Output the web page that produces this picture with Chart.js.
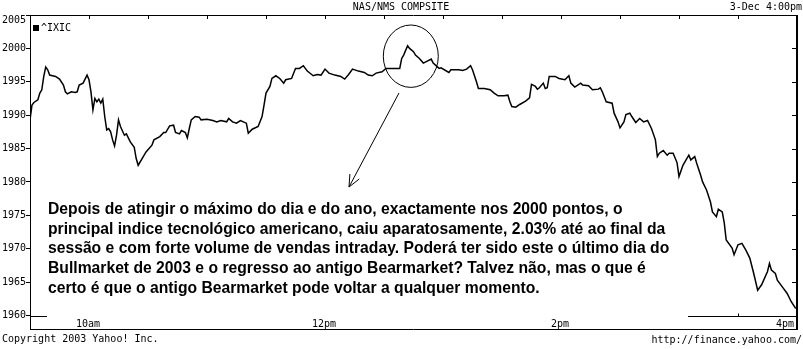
<!DOCTYPE html>
<html>
<head>
<meta charset="utf-8">
<title>NAS/NMS COMPSITE</title>
<script src="https://cdn.jsdelivr.net/npm/chart.js@4.4.1/dist/chart.umd.min.js"></script>
<style>
html, body { margin: 0; padding: 0; background: #fff; }
#wrap { position: relative; width: 803px; height: 349px; }
</style>
</head>
<body>
<div id="wrap"><canvas id="chart"></canvas></div>
<script>
// ^IXIC intraday, minutes after 9:30 open
const minutes = [0,1,2,4,5,6,7,8,9,10,13,15,17,18,19,21,23,24,25,27,29,30,31,32,33,34,35,36,37,38,39,40,41,42,43,44,45,46,48,49,51,53,54,55,57,59,62,63,66,68,69,71,73,74,76,77,79,80,81,82,84,86,87,90,93,95,97,100,101,103,105,107,110,111,113,116,118,119,120,122,123,125,127,129,130,133,135,137,139,141,144,146,148,150,152,155,158,160,162,164,167,170,172,174,176,179,181,185,188,189,190,192,193,195,196,198,200,202,204,205,208,209,213,214,218,220,222,224,225,227,228,231,234,236,238,241,243,244,245,247,249,252,254,255,257,258,259,261,262,263,264,267,269,272,274,275,277,280,281,284,286,289,290,291,293,296,297,299,300,302,303,305,306,308,310,312,314,316,318,319,320,322,324,325,327,329,330,332,333,335,336,338,339,341,342,344,346,347,349,350,352,353,354,357,358,360,362,364,366,368,370,372,375,376,377,379,380,383,385,387,389,390];
const values = [1989.3,1991.5,1991.9,1992.3,1993.3,1993.8,1995.8,1997.2,1996.8,1996.0,1995.8,1995.4,1994.5,1993.5,1993.2,1993.5,1993.4,1993.5,1994.5,1994.8,1996.0,1995.3,1993.5,1990.8,1992.5,1992.0,1992.4,1991.8,1992.4,1989.8,1987.8,1988.0,1987.5,1986.3,1985.4,1987.0,1989.3,1988.3,1987.0,1987.2,1986.0,1985.2,1983.5,1982.5,1983.5,1984.5,1985.5,1986.3,1986.8,1987.4,1987.4,1988.4,1988.5,1987.4,1987.2,1987.7,1987.4,1986.6,1988.0,1989.3,1989.8,1989.7,1989.3,1989.4,1989.2,1989.0,1989.2,1989.0,1989.5,1989.0,1988.8,1989.2,1988.8,1987.3,1987.9,1988.3,1989.8,1991.5,1993.3,1994.3,1995.5,1995.9,1995.5,1994.8,1995.3,1995.5,1997.0,1997.0,1997.4,1996.6,1995.9,1996.1,1996.0,1996.9,1996.3,1996.0,1995.8,1995.4,1996.1,1996.9,1996.6,1996.4,1996.0,1995.9,1996.3,1996.5,1997.0,1997.0,1997.0,1998.5,1999.0,2000.4,2000.0,1999.5,1999.0,1998.5,1997.8,1998.1,1998.4,1997.8,1997.0,1997.1,1996.4,1996.8,1996.8,1996.7,1996.9,1997.4,1996.8,1995.0,1994.0,1994.0,1993.8,1993.3,1992.9,1992.9,1993.0,1992.0,1991.3,1991.2,1991.6,1992.1,1992.6,1994.6,1994.3,1993.9,1994.1,1994.8,1994.0,1994.1,1995.8,1995.8,1995.5,1995.3,1995.9,1994.8,1994.2,1994.8,1994.5,1994.4,1993.8,1993.9,1994.1,1993.5,1992.0,1991.8,1990.3,1989.0,1988.1,1989.0,1990.1,1990.3,1989.8,1988.9,1989.5,1989.0,1989.2,1988.0,1986.3,1983.8,1984.3,1984.7,1984.0,1984.3,1984.3,1982.9,1980.8,1982.5,1983.0,1984.0,1983.3,1983.8,1982.8,1981.0,1980.0,1978.8,1977.0,1975.5,1974.8,1975.9,1975.5,1973.9,1971.3,1970.1,1969.1,1970.6,1970.8,1969.8,1968.6,1966.3,1963.8,1964.6,1966.6,1967.8,1966.8,1966.3,1965.3,1964.1,1963.3,1962.1,1961.2,1961.0];

const yTicks = [1960, 1965, 1970, 1975, 1980, 1985, 1990, 1995, 2000, 2005];
const gridMinutes = [30, 60, 90, 120, 150, 180, 210, 240, 270, 300, 330, 360];
const timeLabels = ['10am', '12pm', '2pm', '4pm'];
const timeLabelMinutes = [30, 150, 270, 390];

const noteLines = [
    'Depois de atingir o máximo do dia e do ano, exactamente nos 2000 pontos, o',
    'principal indice tecnológico americano, caiu aparatosamente, 2.03% até ao final da',
    'sessão e com forte volume de vendas intraday. Poderá ter sido este o último dia do',
    'Bullmarket de 2003 e o regresso ao antigo Bearmarket? Talvez não, mas o que é',
    'certo é que o antigo Bearmarket pode voltar a qualquer momento.'
];

const MONO = '10px "DejaVu Sans Mono", monospace';

// frame, ticks, labels and the pasted-in note
const yahooFrame = {
    id: 'yahooFrame',
    afterDraw(chart) {
        const ctx = chart.ctx;
        const a = chart.chartArea;
        const xs = chart.scales.x;
        const ys = chart.scales.y;
        ctx.save();
        ctx.strokeStyle = '#000';
        ctx.fillStyle = '#000';
        ctx.lineWidth = 1;

        // base line at 1960 and time ticks
        const yBase = Math.round(ys.getPixelForValue(1960)) + 0.5;
        ctx.beginPath();
        ctx.moveTo(a.left, yBase);
        ctx.lineTo(a.right, yBase);
        gridMinutes.forEach(m => {
            const x = Math.round(xs.getPixelForValue(m)) + 0.5;
            ctx.moveTo(x, a.top);
            ctx.lineTo(x, a.top + 4);
            ctx.moveTo(x, yBase);
            ctx.lineTo(x, yBase - 3);
        });
        // right side ticks
        yTicks.forEach(v => {
            const y = Math.round(ys.getPixelForValue(v)) + 0.5;
            ctx.moveTo(a.right - 5, y);
            ctx.lineTo(a.right, y);
        });
        ctx.stroke();

        // note box covers the base line
        ctx.fillStyle = '#fff';
        ctx.fillRect(47, 196, 641, 122);
        ctx.fillStyle = '#000';
        ctx.font = 'bold 15.7px "Liberation Sans", Arial, sans-serif';
        ctx.textAlign = 'left';
        ctx.textBaseline = 'alphabetic';
        noteLines.forEach((t, i) => ctx.fillText(t, 48, 214 + i * 19.7));

        // circle round the high and arrow
        ctx.beginPath();
        ctx.ellipse(410.8, 56.2, 27.5, 31.2, 0, 0, Math.PI * 2);
        ctx.stroke();
        const x0 = 399, y0 = 93, x1 = 349, y1 = 187;
        ctx.beginPath();
        ctx.moveTo(x0, y0);
        ctx.lineTo(x1, y1);
        const ang = Math.atan2(y0 - y1, x0 - x1);
        [-0.42, 0.42].forEach(d => {
            ctx.moveTo(x1, y1);
            ctx.lineTo(x1 + 13 * Math.cos(ang + d), y1 + 13 * Math.sin(ang + d));
        });
        ctx.stroke();

        // frame
        ctx.beginPath();
        ctx.moveTo(a.left, a.top + 0.5);
        ctx.lineTo(a.right, a.top + 0.5);
        ctx.moveTo(a.left, a.bottom + 0.5);
        ctx.lineTo(a.right, a.bottom + 0.5);
        ctx.stroke();
        ctx.lineWidth = 2;
        ctx.beginPath();
        ctx.moveTo(a.right, a.top);
        ctx.lineTo(a.right, a.bottom + 1);
        ctx.stroke();

        // text
        ctx.font = MONO;
        ctx.textBaseline = 'middle';
        ctx.textAlign = 'right';
        yTicks.forEach(v => {
            let y = ys.getPixelForValue(v);
            if (v === 2005) y += 5;
            ctx.fillText(String(v), 26, y);
        });
        timeLabels.forEach((t, i) => {
            const x = xs.getPixelForValue(timeLabelMinutes[i]);
            if (i === timeLabels.length - 1) {
                ctx.textAlign = 'right';
                ctx.fillText(t, x - 3, 324);
            } else {
                ctx.textAlign = 'center';
                ctx.fillText(t, x - 1, 324);
            }
        });
        ctx.textAlign = 'center';
        ctx.fillText('NAS/NMS COMPSITE', 401, 7);
        ctx.textAlign = 'right';
        ctx.fillText('3-Dec 4:00pm', 802, 7);
        ctx.fillText('http://finance.yahoo.com/', 802, 340);
        ctx.textAlign = 'left';
        ctx.fillText('Copyright 2003 Yahoo! Inc.', 2, 339);

        // legend
        ctx.fillRect(33, 25, 6, 6);
        ctx.fillText('^IXIC', 41, 28);
        ctx.restore();
    }
};

const ctx = document.getElementById('chart').getContext('2d');
window.ixicChart = new Chart(ctx, {
    type: 'line',
    data: {
        datasets: [{
            label: '^IXIC',
            data: minutes.map((m, i) => ({ x: m, y: values[i] })),
            borderColor: '#000',
            borderWidth: 1.5,
            pointRadius: 0,
            tension: 0,
            fill: false
        }]
    },
    options: {
        responsive: true,
        maintainAspectRatio: false,
        animation: false,
        devicePixelRatio: 1,
        layout: { padding: { top: 15, right: 6, bottom: 20, left: 0 } },
        plugins: { legend: { display: false }, tooltip: { enabled: false } },
        scales: {
            x: { type: 'linear', min: 0, max: 390, display: false },
            y: {
                min: 1957.98,
                max: 2005,
                afterBuildTicks: s => { s.ticks = yTicks.map(v => ({ value: v })); },
                afterFit: s => { s.width = 30; },
                ticks: { display: false },
                grid: { drawOnChartArea: false, drawTicks: true, tickLength: 4, color: '#000' },
                border: { display: true, color: '#000', width: 1 }
            }
        }
    },
    plugins: [yahooFrame]
});
</script>
</body>
</html>
